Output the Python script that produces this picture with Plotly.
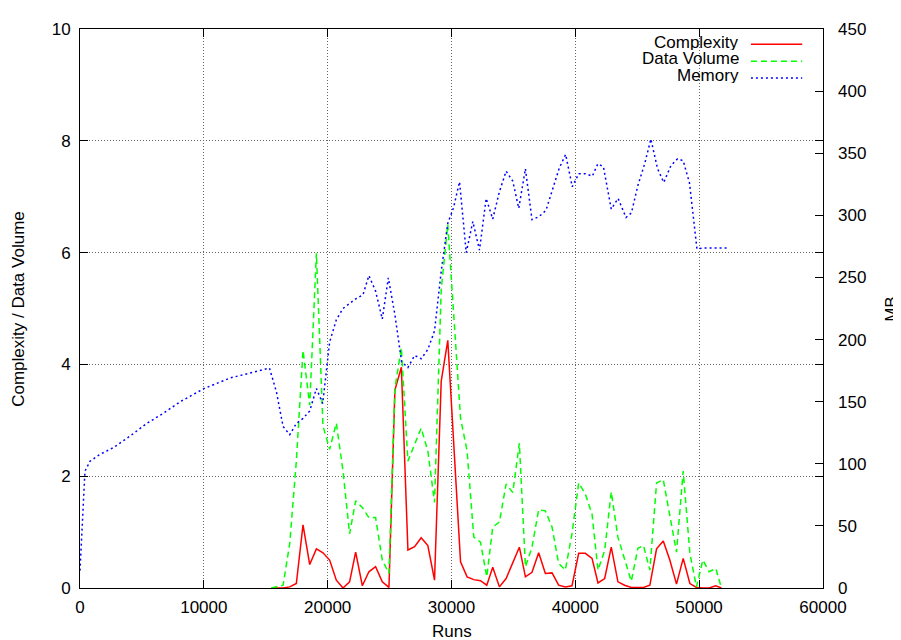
import plotly.graph_objects as go

# ---- data (runs in thousands are converted below) ----
runs_k = [15.46, 15.93, 16.4, 16.94, 17.47, 18.01, 18.55, 19.09, 19.62, 20.16,
          20.7, 21.24, 21.77, 22.26, 22.8, 23.33, 23.87, 24.41, 24.95, 25.43,
          25.95, 26.48, 27.02, 27.55, 28.09, 28.63, 29.17, 29.70, 30.73, 31.26,
          31.8, 32.34, 32.85, 33.33, 33.87, 34.41, 34.95, 35.48, 35.97, 36.5,
          37.04, 37.58, 38.12, 38.65, 39.19, 39.73, 40.27, 40.81, 41.35, 41.83,
          42.37, 42.9, 43.44, 43.98, 44.52, 45.05, 45.5, 46.02, 46.56, 47.1,
          47.63, 48.17, 48.71, 49.25, 49.78, 50.3, 50.8, 51.34, 51.8]

complexity = [0, 0, 0, 0.02, 0.08, 1.13, 0.42, 0.70, 0.63, 0.50,
              0.14, 0.0, 0.11, 0.64, 0.04, 0.29, 0.38, 0.11, 0.01, 3.54,
              3.95, 0.68, 0.74, 0.90, 0.76, 0.14, 3.70, 4.43, 0.47, 0.20,
              0.15, 0.13, 0.05, 0.37, 0.02, 0.17, 0.47, 0.73, 0.20, 0.28,
              0.63, 0.26, 0.27, 0.05, 0.02, 0.04, 0.62, 0.62, 0.53, 0.09,
              0.17, 0.73, 0.11, 0.05, 0.01, 0.01, 0.01, 0.05, 0.70, 0.84,
              0.50, 0.07, 0.53, 0.08, 0.01, 0.0, 0.0, 0.04, 0.0]

data_volume = [0, 0.03, 0.05, 0.8, 2.27, 4.25, 3.27, 5.99, 2.9, 2.48,
               2.95, 2.09, 0.97, 1.56, 1.44, 1.26, 1.26, 0.5, 0.26, 3.57,
               4.3, 2.27, 2.57, 2.86, 2.45, 1.53, 5.34, 6.5, 3.04, 2.45,
               0.91, 0.82, 0.20, 1.09, 1.18, 1.86, 1.71, 2.59, 0.38, 0.73,
               1.40, 1.38, 1.09, 0.44, 0.32, 0.97, 1.88, 1.68, 1.32, 0.32,
               0.67, 1.72, 0.91, 0.50, 0.12, 0.71, 0.76, 0.32, 1.88, 1.94,
               1.29, 0.64, 2.09, 0.62, 0.02, 0.50, 0.29, 0.35, 0.0]

mem_runs_k = [0, 0.4, 0.8, 1.6, 2.7, 4.0, 5.4, 6.7, 8.1, 10.0,
              12.1, 14.0, 15.3, 15.86, 16.4, 16.94, 17.47, 18.01, 18.55, 19.09,
              19.6, 20.16, 20.7, 21.24, 21.77, 22.3, 22.85, 23.33, 23.87, 24.41,
              24.9, 25.43, 25.97, 26.48, 27.02, 27.55, 28.09, 28.63, 29.17, 29.70,
              30.16, 30.65, 31.19, 31.72, 32.26, 32.8, 33.33, 33.87, 34.41, 34.95,
              35.43, 35.97, 36.5, 37.07, 37.63, 38.17, 38.7, 39.22, 39.75, 40.28,
              40.83, 41.37, 41.82, 42.27, 42.9, 43.45, 44.09, 44.53, 45.05, 45.6,
              46.1, 46.64, 47.14, 47.72, 48.25, 48.71, 49.22, 49.82, 50.3, 52.4]

memory_mb = [14, 94, 102, 107.5, 113, 122, 132.5, 140.5, 150, 160.5,
             169, 174, 177, 158, 130, 123.4, 132.5, 136.5, 142.5, 160.6,
             148.5, 198, 216, 225, 229, 233, 236, 251.5, 239, 216.5,
             249.7, 220, 182, 177.5, 187.2, 184.6, 192, 207, 255, 293.6,
             306, 327, 270, 295, 272, 313.6, 297, 319, 335.5, 327.5,
             305.6, 337.5, 296.5, 299, 304, 321.5, 338, 349, 323, 333.5,
             333.5, 331.5, 341.5, 339, 305, 313.6, 298.3, 302, 324, 341.5,
             361.4, 337.5, 326.5, 340, 345.5, 344, 326, 273, 273.7, 273.7]

x_ticks = [0, 10000, 20000, 30000, 40000, 50000, 60000]
y_ticks = [0, 2, 4, 6, 8, 10]
y2_ticks = [0, 50, 100, 150, 200, 250, 300, 350, 400, 450]

series_names = ["Complexity", "Data Volume", "Memory"]
series_colors = ["#ff0000", "#00ff00", "#0000ff"]
series_dash = ["solid", "6px,4px", "2px,3px"]

runs = [r * 1000 for r in runs_k]
mem_runs = [r * 1000 for r in mem_runs_k]

FONT = "Liberation Sans, Arial, Helvetica, sans-serif"
FS = 17

fig = go.Figure()
fig.add_trace(go.Scatter(x=runs, y=complexity, mode="lines", name=series_names[0],
                         line=dict(color=series_colors[0], width=1.5, dash=series_dash[0]),
                         yaxis="y", showlegend=False))
fig.add_trace(go.Scatter(x=runs, y=data_volume, mode="lines", name=series_names[1],
                         line=dict(color=series_colors[1], width=1.5, dash=series_dash[1]),
                         yaxis="y", showlegend=False))
fig.add_trace(go.Scatter(x=mem_runs, y=memory_mb, mode="lines", name=series_names[2],
                         line=dict(color=series_colors[2], width=1.5, dash=series_dash[2]),
                         yaxis="y2", showlegend=False))

grid = dict(showgrid=True, gridcolor="#666", gridwidth=1, griddash="1px,2px")

# the page body has an 8px margin, so the figure is sized to fill the rest of the window
fig.update_layout(
    width=893, height=632,
    margin=dict(l=72, r=78, t=16, b=52),
    paper_bgcolor="white", plot_bgcolor="white",
    font=dict(family=FONT, size=FS, color="black"),
    xaxis=dict(range=[0, 60000], tickvals=x_ticks, ticktext=[str(v) for v in x_ticks],
               ticks="inside", ticklen=8, tickcolor="black", showline=True,
               linecolor="black", linewidth=1, mirror="ticks", zeroline=False,
               ticklabelstandoff=4, **grid),
    yaxis=dict(range=[0, 10], tickvals=y_ticks, ticktext=[str(v) for v in y_ticks],
               ticks="inside", ticklen=8, tickcolor="black", showline=True,
               linecolor="black", linewidth=1, mirror="ticks", zeroline=False,
               ticklabelstandoff=5, **grid),
    yaxis2=dict(range=[0, 450], tickvals=y2_ticks, ticktext=[str(v) for v in y2_ticks],
                overlaying="y", side="right", ticks="inside", ticklen=8,
                tickcolor="black", showgrid=False, zeroline=False, showline=False,
                ticklabelstandoff=14),
)

# axis titles
fig.add_annotation(text="Runs", xref="paper", yref="paper", x=0.5, y=-0.078,
                   xanchor="center", yanchor="middle", showarrow=False,
                   font=dict(family=FONT, size=FS))
fig.add_annotation(text="Complexity / Data Volume", xref="paper", yref="paper",
                   x=-0.083, y=0.5, textangle=-90, xanchor="center", yanchor="middle",
                   showarrow=False, font=dict(family=FONT, size=FS))
fig.add_annotation(text="MB", xref="paper", yref="paper", x=1.092, y=0.5,
                   textangle=-90, xanchor="center", yanchor="middle",
                   showarrow=False, font=dict(family=FONT, size=FS))

# gnuplot-style key: text right-aligned, sample line to its right
key_y = [0.9775, 0.9475, 0.9175]
for name, color, dash, ky in zip(series_names, series_colors, series_dash, key_y):
    fig.add_annotation(text=name, xref="paper", yref="paper", x=0.888, y=ky,
                       xanchor="right", yanchor="middle", showarrow=False,
                       height=16, borderpad=0, valign="middle",
                       font=dict(family=FONT, size=FS))
    fig.add_shape(type="line", xref="paper", yref="paper", x0=0.903, x1=0.972,
                  y0=ky - 0.005, y1=ky - 0.005,
                  line=dict(color=color, width=1.5, dash=dash))

fig.write_html("out.html")
